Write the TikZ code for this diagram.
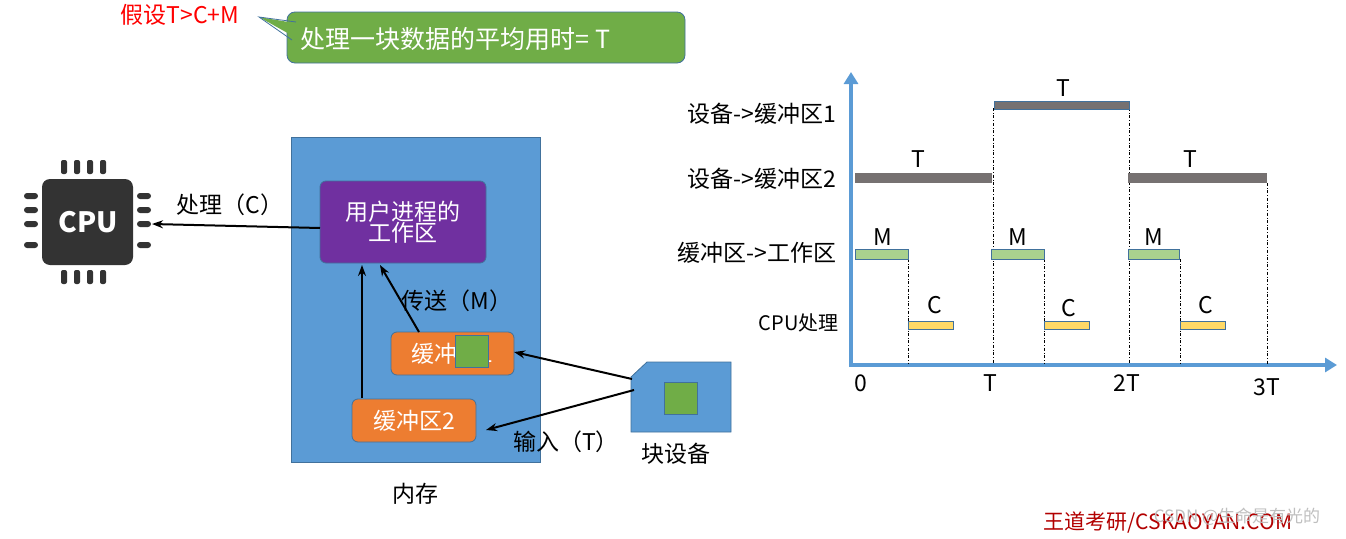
\documentclass[tikz,border=0pt]{standalone}
\usepackage{fontspec}
\setmainfont{Noto Sans CJK SC}
\usetikzlibrary{arrows.meta}
\definecolor{memblue}{HTML}{5B9BD5}
\definecolor{edgeblue}{HTML}{41719C}
\definecolor{cgreen}{HTML}{70AD47}
\definecolor{cpurple}{HTML}{7030A0}
\definecolor{corange}{HTML}{ED7D31}
\definecolor{cgray}{HTML}{767171}
\definecolor{lgreen}{HTML}{A9D18E}
\definecolor{cyellow}{HTML}{FFD966}
\begin{document}
\begin{tikzpicture}[x=1pt,y=-1pt,
 lab/.style={font=\fontsize{23}{26}\selectfont},
 wlab/.style={font=\fontsize{23}{26}\selectfont,text=white},
 box/.style={draw=edgeblue,line width=0.8pt,rounded corners=6pt,inner sep=0pt},
 arr/.style={-{Stealth[length=11pt,width=8pt]},line width=2pt},
 bar/.style={draw=edgeblue,line width=0.6pt},
 dd/.style={dash dot,line width=0.6pt}]
\useasboundingbox (0,0) rectangle (1346,538);
% header
\node[lab,text=red,anchor=west] (assume) at (117,15) {假设T>C+M};
\fill[cgreen,draw=edgeblue,line width=0.8pt,rounded corners=8pt] (287,12) rectangle (685,63);
\fill[cgreen] (259,17) -- (300,24) -- (300,40) -- cycle;
\draw[edgeblue,line width=0.8pt] (292,40) -- (259,17) -- (296,22);
\node[font=\fontsize{25}{28}\selectfont,text=white,anchor=west] (note) at (297,39) {处理一块数据的平均用时= T};
% CPU
\fill[black!80,rounded corners=8pt] (42,179) rectangle (133,265);
\node[font=\bfseries\fontsize{28}{30}\selectfont,text=white] (cpu) at (88,222) {CPU};
\foreach \x in {64,77,90,103}{\fill[black!80,rounded corners=2pt] (\x-3,160) rectangle (\x+3,174); \fill[black!80,rounded corners=2pt] (\x-3,270) rectangle (\x+3,284);}
\foreach \y in {196,210,224,245}{\fill[black!80,rounded corners=3pt] (24,\y-3) rectangle (38,\y+3); \fill[black!80,rounded corners=3pt] (137,\y-3) rectangle (151,\y+3);}
\coordinate (cpuR) at (152,224);
% memory
\node[fill=memblue,draw=edgeblue,line width=0.8pt,minimum width=249pt,minimum height=325pt,inner sep=0pt] (mem) at (415.5,299.5) {};
\node[lab] (memlab) at (415,494) {内存};
\node[box,fill=cpurple,minimum width=166pt,minimum height=82pt,align=center,wlab] (work) at (403,222) {用户进程的\\[-5pt]工作区};
\node[box,fill=corange,minimum width=123pt,minimum height=43pt,wlab] (buf1) at (452.5,353.5) {缓冲区1};
\fill[cgreen,draw=edgeblue,line width=0.6pt] (455,335) rectangle (488,367);
\node[box,fill=corange,minimum width=124pt,minimum height=43pt,wlab] (buf2) at (414,420.5) {缓冲区2};
% device
\draw[fill=memblue,draw=edgeblue,line width=0.8pt] (631,377) -- (647,362) -- (731,362) -- (731,432) -- (631,432) -- cycle;
\fill[cgreen,draw=edgeblue,line width=0.6pt] (664,382) rectangle (697,414);
\node[lab] (devlab) at (676,454) {块设备};
% arrows
\draw[arr] (320,228) -- (cpuR);
\node[lab] (proc) at (230,205) {处理（C）};
\draw[arr] (419,332) -- (380,265);
\draw[arr] (362,398) -- (362,265);
\node[lab] (send) at (457,301) {传送（M）};
\draw[arr] (632,379) -- (514,352);
\draw[arr] (634,390) -- (486,430);
\node[lab] (inp) at (566,442) {输入（T）};
% chart
\draw[memblue,line width=4pt,-{Triangle[length=12pt,width=14pt]}] (851,367) -- (851,72);
\draw[memblue,line width=4pt,-{Triangle[length=12pt,width=14pt]}] (849,365) -- (1337,365);
\foreach \x/\t in {908/259,993/108,1044/259,1129/108,1180/259,1267/183}{\draw[dd] (\x,\t) -- (\x,364);}
\draw[bar,fill=cgray] (994,101) rectangle (1129,109);
\fill[cgray] (855,173) rectangle (992,183);
\fill[cgray] (1128,173) rectangle (1267,183);
\foreach \a/\b in {855/908,991/1044,1128/1179}{\draw[bar,fill=lgreen] (\a,249) rectangle (\b,259);}
\foreach \a/\b in {908/953,1044/1089,1180/1225}{\draw[bar,fill=cyellow] (\a,321) rectangle (\b,329);}
\node[lab] (t1) at (1063,88) {T};
\node[lab] (t2) at (918,159) {T};
\node[lab] (t3) at (1190,159) {T};
\foreach \x in {883,1018,1154}{\node[lab] at (\x,237) {M};}
\node[lab] (c1) at (935,305) {C};
\node[lab] (c2) at (1069,308) {C};
\node[lab] (c3) at (1206,305) {C};
\node[lab] (x0) at (861,383) {0};
\node[lab] (x1) at (990,383) {T};
\node[lab] (x2) at (1127,383) {2T};
\node[lab] (x3) at (1267,387) {3T};
\node[lab,anchor=east] (r1) at (840,114) {设备->缓冲区1};
\node[lab,anchor=east] (r2) at (840,179) {设备->缓冲区2};
\node[lab,anchor=east] (r3) at (840,253) {缓冲区->工作区};
\node[font=\fontsize{20}{22}\selectfont,anchor=east] (r4) at (842,323) {CPU处理};
% watermark
\node[font=\fontsize{21}{24}\selectfont,text=red!70!black] (wm) at (1168,523) {王道考研/CSKAOYAN.COM};
\node[font=\fontsize{17}{19}\selectfont,text=black!25] (csdn) at (1237,517) {CSDN @生命是有光的};
\end{tikzpicture}
\end{document}
